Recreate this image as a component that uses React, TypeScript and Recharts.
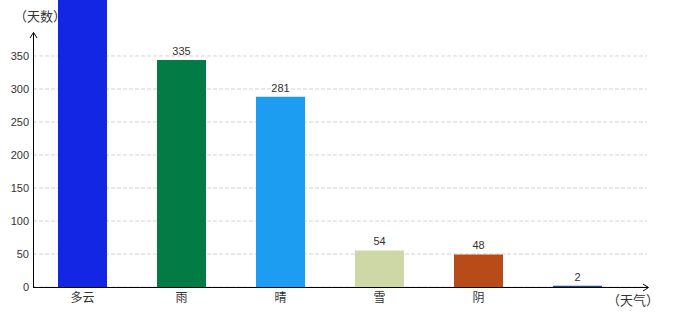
import React from "react";
import { BarChart, Bar, XAxis, YAxis, CartesianGrid, LabelList, Cell } from "recharts";

// weather types and days counted
const categories = ["多云", "雨", "晴", "雪", "阴", ""];
const days = [460, 335, 281, 54, 48, 2];
const colors = ["#1226E3", "#037B44", "#1C9DF2", "#CED7A6", "#B84B18", "#1A4A9A"];
const yTicks = [0, 50, 100, 150, 200, 250, 300, 350];
const yMax = 434.8;

const data = categories.map((name, i) => ({ name, value: days[i] }));

const cjk = "'Noto Sans CJK SC', sans-serif";
const num = "'Liberation Sans', Arial, sans-serif";

// value above the bar, skipped when the bar runs off the top
const renderValue = (props: any) => {
    const { x, y, width, value } = props;
    if (y < 12) return null;
    return (
        <text x={x + width / 2} y={y - 5} textAnchor="middle" fontSize={11} fill="#333" fontFamily={num}>
            {value}
        </text>
    );
};

// only the tick lines, no line at the top edge
const gridRows = ({ yAxis, offset }: any) => {
    const s = yAxis && yAxis.scale;
    return yTicks.map((t) => {
        if (typeof s === "function") return s(t);
        if (s && typeof s.map === "function") return s.map(t);
        return offset.top + offset.height * (1 - t / yMax);
    });
};

const App = () => {
    return (
        <div style={{ position: "absolute", left: 0, top: 0, width: 680, height: 320 }}>
            {/* axis title sits under the bars */}
            <svg width={680} height={320} style={{ position: "absolute", left: 0, top: 0 }}>
                <text x={40} y={21} textAnchor="middle" fontSize={13} fill="#333" fontFamily={cjk}>
                    （天数）
                </text>
            </svg>
            <div style={{ position: "absolute", left: 0, top: 0 }}>
                <BarChart
                    width={680}
                    height={320}
                    data={data}
                    margin={{ top: 0, right: 33, left: 0, bottom: 3 }}
                    barCategoryGap={0}
                >
                    <CartesianGrid
                        yAxisId="axis"
                        vertical={false}
                        stroke="#d2d2d2"
                        strokeDasharray="4 2"
                        horizontalCoordinatesGenerator={gridRows}
                    />
                    <XAxis
                        dataKey="name"
                        axisLine={false}
                        tickLine={false}
                        tickSize={4}
                        tickMargin={2}
                        height={30}
                        interval={0}
                        padding={{ left: 0, right: 20 }}
                        tick={{ fontSize: 12, fill: "#333", fontFamily: cjk }}
                    />
                    <YAxis
                        yAxisId="axis"
                        width={33}
                        domain={[0, yMax]}
                        ticks={yTicks}
                        allowDataOverflow
                        axisLine={false}
                        tickLine={false}
                        tickSize={2}
                        tickMargin={2}
                        tick={{ fontSize: 11, fill: "#333", fontFamily: num }}
                    />
                    <YAxis yAxisId="bars" hide domain={[0, 423.7]} allowDataOverflow />
                    <Bar yAxisId="bars" dataKey="value" barSize={49} isAnimationActive={false}>
                        {data.map((d, i) => (
                            <Cell key={i} fill={colors[i]} />
                        ))}
                        <LabelList dataKey="value" content={renderValue} />
                    </Bar>
                </BarChart>
            </div>
            {/* axis lines with arrows */}
            <svg width={680} height={320} style={{ position: "absolute", left: 0, top: 0 }}>
                <line x1={33.5} y1={33} x2={33.5} y2={287.5} stroke="#000" />
                <polyline points="30,38 33.5,32.5 37,38" fill="none" stroke="#000" />
                <line x1={33} y1={287.5} x2={648} y2={287.5} stroke="#000" />
                <polyline points="643,284 648.5,287.5 643,291" fill="none" stroke="#000" />
                <text x={633} y={305} textAnchor="middle" fontSize={13} fill="#333" fontFamily={cjk}>
                    （天气）
                </text>
            </svg>
        </div>
    );
};

export default App;
